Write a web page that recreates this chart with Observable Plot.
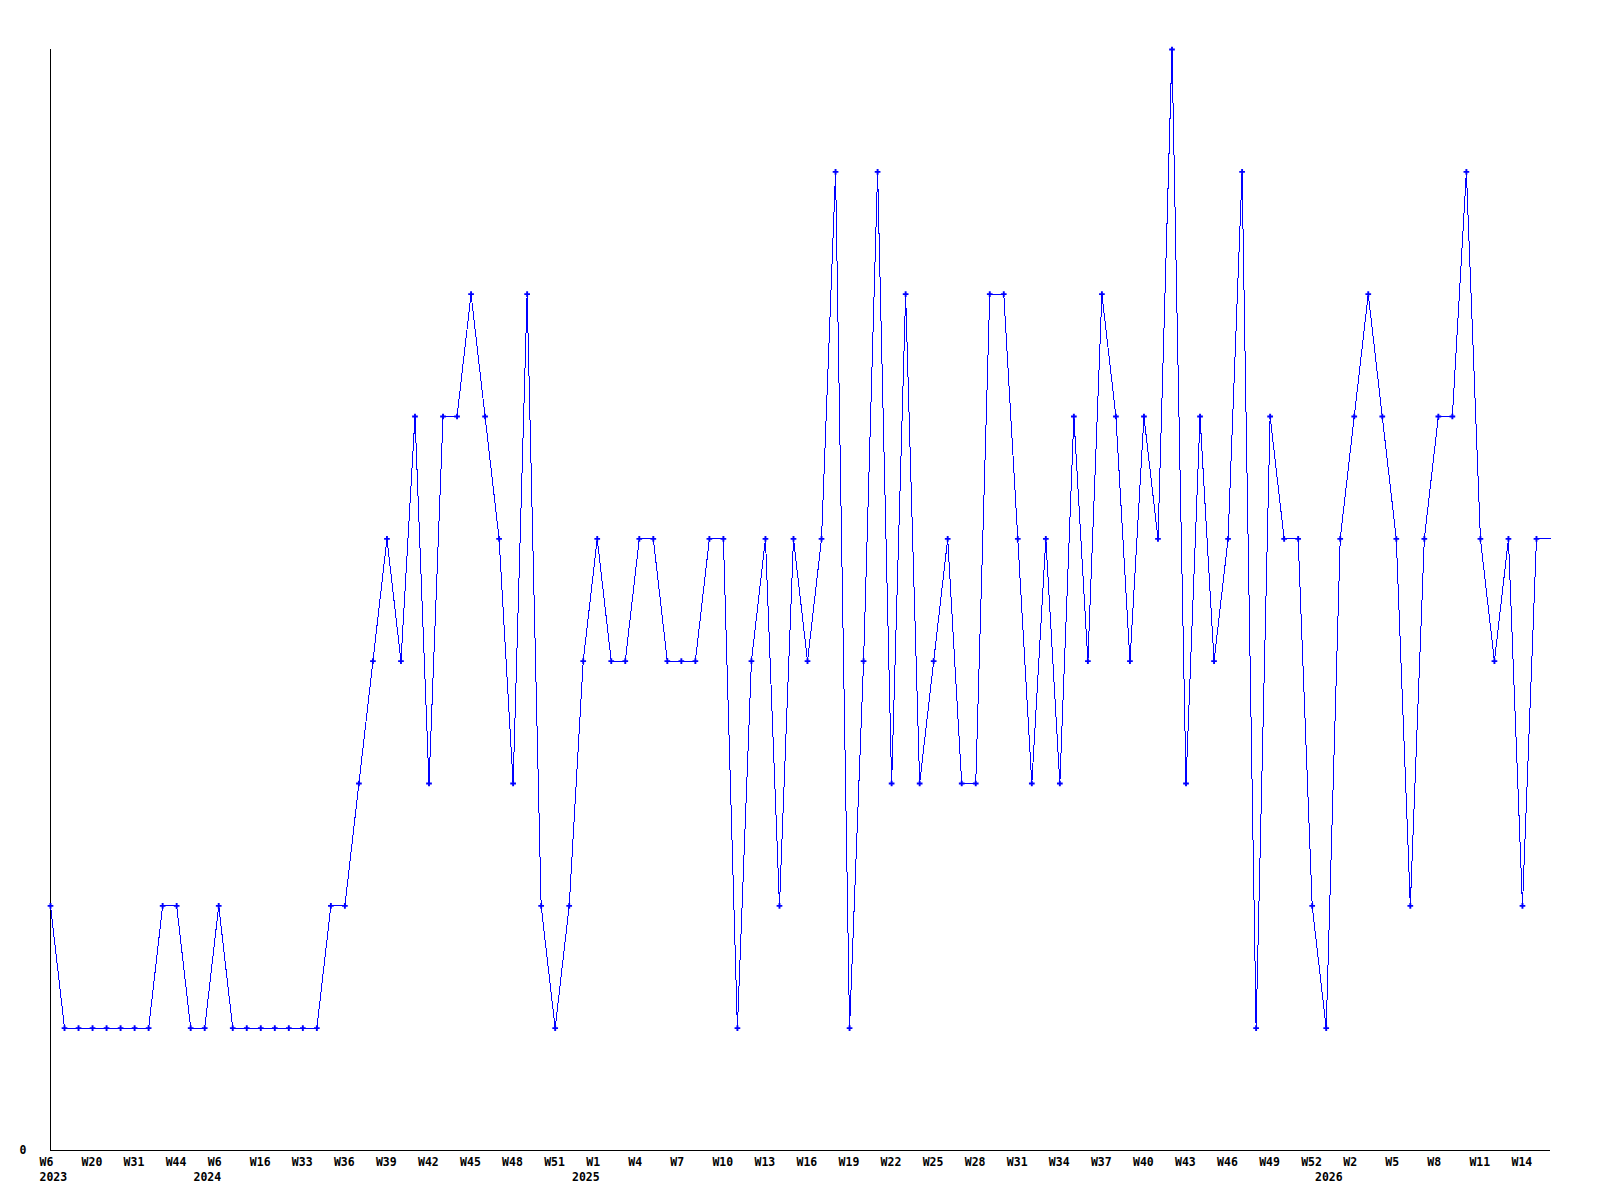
<!DOCTYPE html>
<html>
<head>
<meta charset="utf-8">
<script src="https://cdn.jsdelivr.net/npm/d3@7"></script>
<script src="https://cdn.jsdelivr.net/npm/@observablehq/plot@0.6"></script>
<style>
  html, body { margin: 0; padding: 0; background: #fff; }
  #chart svg { display: block; }
</style>
</head>
<body>
<div id="chart"></div>
<script>
// Weekly categories (year-week), one per data point
const weeks = [
  "2023-W06","2023-W10","2023-W15","2023-W20","2023-W24","2023-W27","2023-W31","2023-W35","2023-W40","2023-W44","2023-W47","2023-W50",
  "2024-W06","2024-W09","2024-W12","2024-W16","2024-W22","2024-W28",
  "2024-W33","2024-W34","2024-W35","2024-W36","2024-W37","2024-W38","2024-W39","2024-W40","2024-W41","2024-W42","2024-W43",
  "2024-W44","2024-W45","2024-W46","2024-W47","2024-W48","2024-W49","2024-W50","2024-W51","2024-W52","2024-W53",
  "2025-W01","2025-W02","2025-W03","2025-W04","2025-W05","2025-W06","2025-W07","2025-W08","2025-W09","2025-W10",
  "2025-W11","2025-W12","2025-W13","2025-W14","2025-W15","2025-W16","2025-W17","2025-W18","2025-W19","2025-W20",
  "2025-W21","2025-W22","2025-W23","2025-W24","2025-W25","2025-W26","2025-W27","2025-W28","2025-W29","2025-W30",
  "2025-W31","2025-W32","2025-W33","2025-W34","2025-W35","2025-W36","2025-W37","2025-W38","2025-W39","2025-W40",
  "2025-W41","2025-W42","2025-W43","2025-W44","2025-W45","2025-W46","2025-W47","2025-W48","2025-W49","2025-W50",
  "2025-W51","2025-W52","2025-W53",
  "2026-W01","2026-W02","2026-W03","2026-W04","2026-W05","2026-W06","2026-W07","2026-W08","2026-W09","2026-W10",
  "2026-W11","2026-W12","2026-W13","2026-W14","2026-W15","2026-W16"
];

// Values per week
const values = [
  2,1,1,1,1,1,1,1,2,2,
  1,1,2,1,1,1,1,1,1,1,
  2,2,3,4,5,4,6,3,6,6,
  7,6,5,3,7,2,1,2,4,5,
  4,4,5,5,4,4,4,5,5,1,
  4,5,2,5,4,5,8,1,4,8,
  3,7,3,4,5,3,3,7,7,5,
  3,5,3,6,4,7,6,4,6,5,
  9,3,6,4,5,8,1,6,5,5,
  2,1,5,6,7,6,5,2,5,6,
  6,8,5,4,5,2,5,5
];

// Y axis tick labels shown
const yTickLabels = ["0"];

const rows = weeks.map((w, i) => ({i, week: w, year: w.slice(0, 4), wk: "W" + parseInt(w.slice(6), 10), v: values[i]}));
const tickRows = rows.filter(d => d.i % 3 === 0);
const yearRows = rows.filter((d, k) => k === 0 || rows[k - 1].year !== d.year);
const firstYear = yearRows.slice(0, 1);
const laterYears = yearRows.slice(1);
const n = rows.length - 1;
const yMax = d3.max(values);

const font = {fontFamily: "'DejaVu Sans Mono', monospace", fontWeight: "bold", fontSize: 11.5, fill: "#000"};

const chart = Plot.plot({
  width: 1600,
  height: 1200,
  marginLeft: 50,
  marginRight: 50,
  marginTop: 49,
  marginBottom: 50,
  style: {background: "#fff", overflow: "visible"},
  x: {domain: [0, n], axis: null},
  y: {domain: [0, yMax], axis: null},
  marks: [
    Plot.ruleX([0], {y1: 0, y2: yMax, stroke: "#000", strokeWidth: 1}),
    Plot.ruleY([0], {x1: 0, x2: n, stroke: "#000", strokeWidth: 1}),
    Plot.line(rows, {x: "i", y: "v", stroke: "#0000ff", strokeWidth: 1, shapeRendering: "crispEdges"}),
    Plot.dot(rows.slice(0, -1), {x: "i", y: "v", symbol: "cross", r: 2.4, fill: "#0000ff", stroke: "none"}),
    Plot.text(tickRows, {x: "i", y: () => 0, text: "wk", textAnchor: "start", dx: -11, dy: 11.5, ...font}),
    Plot.text(firstYear, {x: "i", y: () => 0, text: "year", textAnchor: "start", dx: -11, dy: 26.5, ...font}),
    Plot.text(laterYears, {x: "i", y: () => 0, text: "year", textAnchor: "end", dx: 2.5, dy: 26.5, ...font}),
    Plot.text(yTickLabels, {x: () => 0, y: () => 0, text: d => d, textAnchor: "end", dx: -24, dy: 0, ...font})
  ]
});
document.getElementById("chart").appendChild(chart);
</script>
</body>
</html>
